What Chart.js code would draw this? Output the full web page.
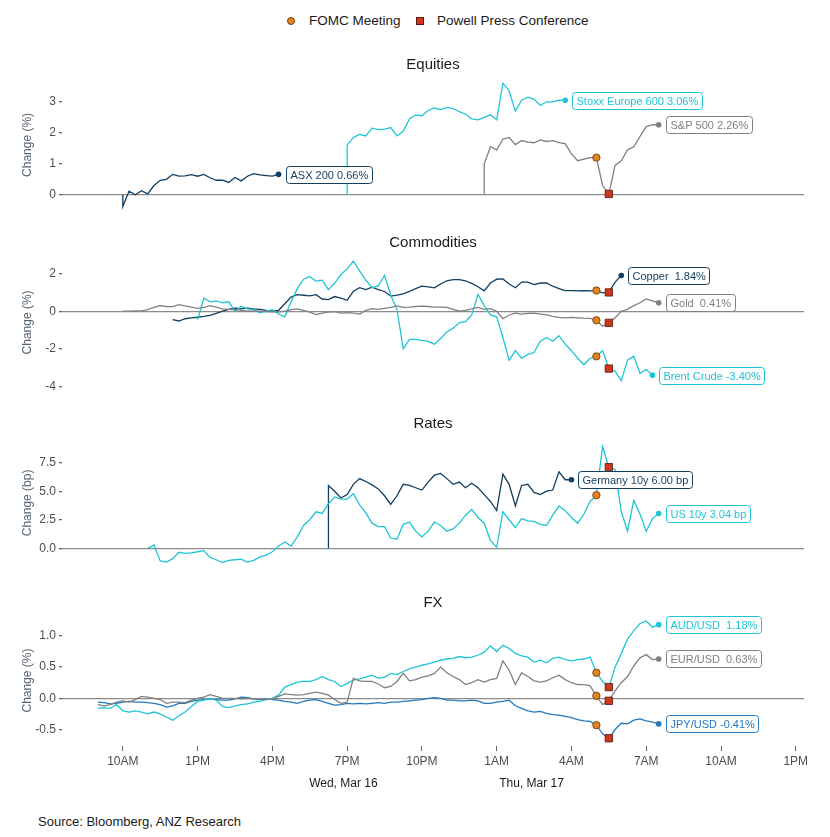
<!DOCTYPE html>
<html>
<head>
<meta charset="utf-8">
<title>Market reaction to the FOMC</title>
<script src="https://cdn.jsdelivr.net/npm/chart.js@4.4.1/dist/chart.umd.min.js"></script>
<style>
  body { margin: 0; background: #fff; font-family: 'Liberation Sans', Arial, sans-serif; }
  #page { position: relative; width: 830px; height: 837px; overflow: hidden; }
  .panel { position: absolute; left: 0; width: 830px; }
  .legend-text { position: absolute; top: 12px; font-size: 13.5px; line-height: 18px; color: #1a1a1a; white-space: nowrap; }
  .legend-dot { position: absolute; top: 17px; width: 8px; height: 8px; border-radius: 50%; background: #e3831f; border: 1px solid #6b4310; box-sizing: border-box; }
  .legend-sq { position: absolute; top: 17px; width: 8px; height: 8px; background: #d2351d; border: 1px solid #5a1a0c; box-sizing: border-box; }
  #source { position: absolute; left: 38px; top: 814px; font-size: 13px; color: #1a1a1a; }
</style>
</head>
<body>
<div id="page">
  <span class="legend-dot" style="left:287px"></span>
  <span class="legend-text" id="lg1" style="left:309px"></span>
  <span class="legend-sq" style="left:416px"></span>
  <span class="legend-text" id="lg2" style="left:437px"></span>
  <div id="source">Source: Bloomberg, ANZ Research</div>
</div>
<script>
// hours after midnight Wed 16 Mar (Sydney time), one reading every 15 minutes
const step = 0.25;
const timeTicks = [10, 13, 16, 19, 22, 25, 28, 31, 34, 37];
const timeLabels = ['10AM', '1PM', '4PM', '7PM', '10PM', '1AM', '4AM', '7AM', '10AM', '1PM'];
const dayLabels = ['Wed, Mar 16', 'Thu, Mar 17'];
const dayPos = [18.85, 26.4];
const legendLabels = ['FOMC Meeting', 'Powell Press Conference'];
const fomcTime = 29;
const powellTime = 29.5;

// Equities (% change)
const equityTicks = [0, 1, 2, 3];
const equityTickLabels = ['0', '1', '2', '3'];
const asxStart = 10;
const asx = [-0.38, 0.12, 0.0, 0.13, 0.03, 0.3, 0.47, 0.5, 0.66, 0.6, 0.61, 0.65, 0.6, 0.66, 0.55, 0.47, 0.47, 0.4, 0.56, 0.45,
  0.6, 0.68, 0.64, 0.62, 0.6, 0.66];
const stoxxStart = 19;
const stoxx = [1.6, 1.85, 1.95, 1.9, 2.15, 2.1, 2.12, 2.17, 1.9, 2.05, 2.45, 2.58, 2.55, 2.72, 2.8, 2.75, 2.82, 2.78, 2.68, 2.6,
  2.45, 2.42, 2.5, 2.58, 2.42, 3.6, 3.35, 2.7, 3.05, 3.15, 3.08, 2.88, 3.0, 3.0, 3.05, 3.05];
const spxStart = 24.5;
const spx = [1.0, 1.55, 1.45, 1.8, 1.85, 1.62, 1.75, 1.7, 1.68, 1.77, 1.72, 1.75, 1.68, 1.65, 1.32, 1.1, 1.15, 1.2, 1.2, 0.3,
  0.03, 0.95, 1.1, 1.45, 1.55, 1.88, 2.2, 2.26, 2.26];

// Commodities (% change)
const commodityTicks = [-4, -2, 0, 2];
const commodityTickLabels = ['-4', '-2', '0', '2'];
const copperStart = 12;
const copper = [-0.45, -0.52, -0.4, -0.35, -0.32, -0.28, -0.22, -0.12, 0.0, 0.1, 0.16, 0.12, 0.16, 0.12, 0.1, 0.05, 0.02, 0.05, 0.4, 0.75,
  0.88, 0.85, 0.82, 0.88, 0.65, 0.62, 0.78, 0.7, 0.58, 1.06, 1.25, 1.15, 1.28, 1.15, 1.05, 0.8, 0.85, 0.92, 1.05, 1.2,
  1.33, 1.3, 1.24, 1.45, 1.62, 1.68, 1.68, 1.62, 1.48, 1.3, 1.08, 1.5, 1.7, 1.72, 1.45, 1.25, 1.55, 1.55, 1.42, 1.5,
  1.5, 1.33, 1.2, 1.1, 1.1, 1.08, 1.1, 1.08, 1.1, 0.98, 1.0, 1.55, 1.9];
const goldStart = 10;
const gold = [0.0, 0.0, 0.02, 0.02, 0.08, 0.2, 0.3, 0.25, 0.24, 0.35, 0.28, 0.22, 0.15, 0.2, 0.3, 0.22, 0.12, 0.1, 0.08, 0.04,
  0.0, 0.02, 0.0, -0.02, -0.03, -0.05, 0.0, 0.08, 0.12, 0.05, -0.05, -0.18, -0.1, -0.05, -0.02, -0.1, -0.08, -0.1, -0.15, 0.05,
  0.14, 0.1, 0.15, 0.2, 0.28, 0.2, 0.22, 0.25, 0.27, 0.25, 0.22, 0.22, 0.2, 0.1, 0.0, 0.05, 0.12, 0.2, 0.1, 0.14,
  0.0, -0.4, -0.2, -0.1, -0.15, -0.12, -0.1, -0.15, -0.2, -0.28, -0.33, -0.35, -0.33, -0.35, -0.37, -0.38, -0.48, -0.8, -0.62, -0.35,
  0.0, 0.1, 0.3, 0.45, 0.65, 0.55, 0.45];
const brentStart = 13;
const brent = [-0.45, 0.7, 0.5, 0.55, 0.45, 0.5, 0.0, 0.25, 0.12, 0.1, -0.08, 0.0, 0.08, -0.15, -0.3, 0.5, 1.2, 1.7, 1.85, 1.6,
  1.65, 1.15, 1.5, 1.95, 2.25, 2.66, 2.15, 1.65, 1.25, 1.35, 1.9, 0.85, 0.1, -2.0, -1.5, -1.5, -1.55, -1.6, -1.75, -1.45,
  -1.1, -0.9, -0.6, -0.55, -0.2, 0.9, 0.3, -0.2, -0.3, -1.4, -2.6, -2.1, -2.5, -2.3, -2.2, -1.6, -1.4, -1.6, -1.3, -1.75,
  -2.1, -2.5, -2.85, -2.5, -2.4, -2.1, -3.05, -3.2, -3.7, -2.6, -2.4, -3.3, -3.1, -3.4];

// Rates (bp change)
const rateTicks = [0, 2.5, 5, 7.5];
const rateTickLabels = ['0.0', '2.5', '5.0', '7.5'];
const us10Start = 11;
const us10 = [0.0, 0.3, -1.1, -1.2, -0.9, -0.35, -0.45, -0.4, -0.3, -0.2, -0.8, -1.0, -1.25, -1.05, -1.0, -0.95, -1.2, -1.05, -0.75, -0.6,
  -0.3, 0.2, 0.55, 0.2, 1.0, 2.0, 2.5, 3.2, 3.05, 3.9, 4.5, 4.3, 4.3, 4.8, 3.8, 3.1, 2.2, 1.9, 1.9, 0.9,
  0.8, 2.1, 2.3, 1.5, 1.0, 1.5, 2.3, 2.0, 1.5, 1.7, 2.2, 2.9, 3.4, 2.7, 2.2, 0.7, 0.1, 3.2, 2.5, 1.8,
  2.6, 2.4, 2.35, 2.1, 2.0, 2.9, 3.7, 3.3, 2.7, 2.2, 3.0, 4.1, 4.65, 8.9, 7.1, 6.9, 3.2, 1.5, 4.2, 3.0,
  1.5, 2.6, 3.05];
const bundStart = 18.25;
const bund = [5.5, 5.0, 4.4, 4.7, 5.6, 6.1, 5.85, 5.55, 5.2, 4.6, 3.85, 4.6, 5.6, 5.5, 5.3, 5.1, 5.8, 6.4, 6.55, 6.1,
  5.6, 5.8, 5.3, 5.7, 5.3, 4.7, 4.1, 3.3, 6.5, 5.6, 3.7, 5.5, 5.6, 4.9, 4.7, 5.0, 5.1, 6.7, 6.0, 6.0];

// FX (% change)
const fxTicks = [-0.5, 0, 0.5, 1];
const fxTickLabels = ['-0.5', '0.0', '0.5', '1.0'];
const fxStart = 9;
const audusd = [-0.16, -0.15, -0.16, -0.1, -0.2, -0.22, -0.2, -0.22, -0.25, -0.22, -0.25, -0.3, -0.35, -0.28, -0.22, -0.13, -0.05, -0.03, 0.0, -0.03,
  -0.13, -0.15, -0.12, -0.1, -0.09, -0.06, -0.05, -0.02, 0.0, 0.05, 0.18, 0.22, 0.26, 0.27, 0.27, 0.3, 0.35, 0.3, 0.27, 0.19,
  0.24, 0.29, 0.31, 0.34, 0.37, 0.32, 0.34, 0.4, 0.38, 0.43, 0.47, 0.5, 0.53, 0.55, 0.58, 0.61, 0.63, 0.64, 0.67, 0.65,
  0.66, 0.69, 0.74, 0.84, 0.75, 0.85, 0.8, 0.72, 0.68, 0.66, 0.58, 0.61, 0.57, 0.64, 0.66, 0.62, 0.6, 0.62, 0.63, 0.66,
  0.41, 0.27, 0.18, 0.5, 0.72, 0.95, 1.08, 1.2, 1.24, 1.14, 1.18];
const eurusd = [-0.1, -0.12, -0.1, -0.06, -0.04, -0.06, -0.02, 0.03, 0.02, 0.0, -0.02, -0.08, -0.06, -0.06, -0.07, -0.03, 0.0, 0.02, 0.06, 0.03,
  0.0, 0.0, 0.0, -0.01, 0.0, -0.01, -0.01, -0.02, -0.01, 0.03, 0.07, 0.06, 0.05, 0.06, 0.08, 0.1, 0.08, 0.05, -0.02, -0.08,
  -0.06, 0.32, 0.28, 0.27, 0.27, 0.23, 0.17, 0.19, 0.27, 0.4, 0.28, 0.3, 0.34, 0.36, 0.4, 0.5, 0.41, 0.35, 0.3, 0.22,
  0.25, 0.3, 0.26, 0.3, 0.32, 0.6, 0.45, 0.22, 0.41, 0.35, 0.28, 0.26, 0.28, 0.33, 0.37, 0.3, 0.25, 0.22, 0.22, 0.2,
  0.04, -0.1, -0.04, 0.12, 0.25, 0.35, 0.52, 0.65, 0.7, 0.62, 0.63];
const jpyusd = [-0.06, -0.07, -0.09, -0.08, -0.06, -0.05, -0.06, -0.06, -0.07, -0.08, -0.1, -0.14, -0.12, -0.08, -0.08, -0.05, -0.03, -0.02, -0.01, -0.02,
  -0.03, -0.03, -0.01, 0.02, 0.01, -0.01, -0.02, -0.01, -0.02, -0.03, -0.05, -0.06, -0.08, -0.05, -0.03, -0.02, -0.05, -0.08, -0.11, -0.1,
  -0.08, -0.09, -0.08, -0.09, -0.08, -0.07, -0.08, -0.06, -0.06, -0.05, -0.04, -0.03, -0.02, 0.0, 0.01, 0.0, -0.03, -0.03, -0.04, -0.04,
  -0.03, -0.04, -0.08, -0.08, -0.06, -0.05, -0.03, -0.12, -0.16, -0.2, -0.22, -0.21, -0.24, -0.26, -0.27, -0.29, -0.31, -0.34, -0.36, -0.37,
  -0.43, -0.57, -0.64, -0.5, -0.4, -0.41, -0.35, -0.33, -0.36, -0.38, -0.41];

const xMin = 7.56, xMax = 37.33;
const navy = '#123e5f', cyan = '#1fc5d6', grey = '#808080', blue = '#2479bd';
const font = "'Liberation Sans', Arial, sans-serif";
Chart.defaults.font.family = font;

document.getElementById('lg1').textContent = legendLabels[0];
document.getElementById('lg2').textContent = legendLabels[1];

// one line per series; fromZero adds the opening move up from the zero line
function line(label, start, values, color, fromZero) {
  const pts = values.map((v, i) => ({ x: start + i * step, y: v }));
  if (fromZero) pts.unshift({ x: start, y: 0 });
  return {
    type: 'line', label: label, data: pts, endLabel: label,
    borderColor: color, backgroundColor: color, borderWidth: 1.3,
    pointRadius: c => (c.dataIndex === pts.length - 1 ? 2.8 : 0),
    pointBorderWidth: 0, pointHoverRadius: 0, order: 1,
    start: start, values: values
  };
}

function valueAt(ds, t) {
  return ds.values[Math.round((t - ds.start) / step)];
}

const panels = [
  { title: 'Equities', axis: 'Change (%)', top: 47, height: 176, min: -0.58, max: 3.8,
    ticks: equityTicks, labels: equityTickLabels,
    lines: [line('ASX 200 0.66%', asxStart, asx, navy, true),
            line('Stoxx Europe 600 3.06%', stoxxStart, stoxx, cyan, true),
            line('S&P 500 2.26%', spxStart, spx, grey, true)],
    events: [2] },
  { title: 'Commodities', axis: 'Change (%)', top: 225, height: 175, min: -4.18, max: 2.99,
    ticks: commodityTicks, labels: commodityTickLabels,
    lines: [line('Gold  0.41%', goldStart, gold, grey, false),
            line('Brent Crude -3.40%', brentStart, brent, cyan, false),
            line('Copper  1.84%', copperStart, copper, navy, false)],
    events: [0, 1, 2] },
  { title: 'Rates', axis: 'Change (bp)', top: 406, height: 174, min: -1.88, max: 9.83,
    ticks: rateTicks, labels: rateTickLabels,
    lines: [line('US 10y 3.04 bp', us10Start, us10, cyan, false),
            line('Germany 10y 6.00 bp', bundStart, bund, navy, true)],
    events: [0] },
  { title: 'FX', axis: 'Change (%)', top: 585, height: 215, min: -0.764, max: 1.335,
    ticks: fxTicks, labels: fxTickLabels,
    lines: [line('EUR/USD  0.63%', fxStart, eurusd, grey, false),
            line('AUD/USD  1.18%', fxStart, audusd, cyan, false),
            line('JPY/USD -0.41%', fxStart, jpyusd, blue, false)],
    events: [0, 1, 2] }
];

const panelDecor = {
  id: 'panelDecor',
  afterDraw(chart, args, opts) {
    const { ctx, chartArea } = chart;
    ctx.save();
    ctx.font = '15px ' + font;
    ctx.fillStyle = '#1a1a1a';
    ctx.textAlign = 'center';
    ctx.textBaseline = 'middle';
    ctx.fillText(opts.title, (chartArea.left + chartArea.right) / 2, chartArea.top - 12);

    // boxed label at the end of each series
    ctx.font = '11px ' + font;
    ctx.textAlign = 'left';
    chart.data.datasets.forEach((ds, i) => {
      if (!ds.endLabel) return;
      const meta = chart.getDatasetMeta(i);
      const pt = meta.data[meta.data.length - 1];
      const w = Math.round(ctx.measureText(ds.endLabel).width + 8);
      const x0 = Math.round(pt.x + 7) + 0.5;
      const y0 = Math.round(pt.y - 8.5) + 0.5;
      ctx.beginPath();
      ctx.roundRect(x0, y0, w, 17, 3);
      ctx.fillStyle = '#fff';
      ctx.fill();
      ctx.lineWidth = 1;
      ctx.strokeStyle = ds.borderColor;
      ctx.stroke();
      ctx.fillStyle = ds.borderColor;
      ctx.fillText(ds.endLabel, x0 + 4, y0 + 9);
    });

    if (opts.days) {
      const xs = chart.scales.x;
      ctx.font = '12px ' + font;
      ctx.fillStyle = '#1a1a1a';
      ctx.textAlign = 'center';
      dayLabels.forEach((d, i) => ctx.fillText(d, xs.getPixelForValue(dayPos[i]), xs.top + 38));
    }
    ctx.restore();
  }
};

const page = document.getElementById('page');
panels.forEach((p, k) => {
  const last = k === panels.length - 1;
  const box = document.createElement('div');
  box.className = 'panel';
  box.style.top = p.top + 'px';
  box.style.height = p.height + 'px';
  const cv = document.createElement('canvas');
  box.appendChild(cv);
  page.appendChild(box);

  const marked = p.events.map(i => p.lines[i]);
  const fomc = {
    type: 'line', label: legendLabels[0], showLine: false, order: 0,
    data: marked.map(d => ({ x: fomcTime, y: valueAt(d, fomcTime) })),
    pointStyle: 'circle', pointRadius: 3.7, pointBackgroundColor: '#e3831f',
    pointBorderColor: '#5e3a0e', pointBorderWidth: 0.8, pointHoverRadius: 0
  };
  const powell = {
    type: 'line', label: legendLabels[1], showLine: false, order: 0,
    data: marked.map(d => ({ x: powellTime, y: valueAt(d, powellTime) })),
    pointStyle: 'rect', pointRadius: 5.2, pointBackgroundColor: '#d2351d',
    pointBorderColor: '#4f160a', pointBorderWidth: 0.8, pointHoverRadius: 0
  };

  new Chart(cv, {
    type: 'line',
    data: { datasets: [fomc, powell].concat(p.lines) },
    plugins: [panelDecor],
    options: {
      responsive: true,
      maintainAspectRatio: false,
      animation: false,
      events: [],
      layout: { padding: { top: 30, right: 26, bottom: last ? 0 : 10, left: 0 } },
      plugins: {
        legend: { display: false },
        tooltip: { enabled: false },
        panelDecor: { title: p.title, days: last }
      },
      scales: {
        x: {
          type: 'linear', min: xMin, max: xMax, display: last,
          afterBuildTicks: s => { s.ticks = timeTicks.map(v => ({ value: v })); },
          afterFit: s => { if (last) s.height = 54; },
          grid: { drawOnChartArea: false, drawTicks: true, tickLength: 5, tickColor: '#666' },
          border: { display: false },
          ticks: { callback: (v, i) => timeLabels[i], color: '#4d4d4d', font: { size: 12 },
                   padding: 3, maxRotation: 0, autoSkip: false }
        },
        y: {
          min: p.min, max: p.max,
          afterBuildTicks: s => { s.ticks = p.ticks.map(v => ({ value: v })); },
          afterFit: s => { s.width = 62; },
          grid: {
            color: c => (c.tick && c.tick.value === 0 ? '#8c8c8c' : 'rgba(0,0,0,0)'),
            lineWidth: 1.3, drawTicks: true, tickLength: 3, tickColor: '#666'
          },
          border: { display: false },
          ticks: { callback: (v, i) => p.labels[i], color: '#4d4d4d', font: { size: 12 }, padding: 3 },
          title: { display: true, text: p.axis, color: '#56636f', font: { size: 12 },
                   padding: { top: 20, bottom: 0 } }
        }
      }
    }
  });
});
</script>
</body>
</html>
